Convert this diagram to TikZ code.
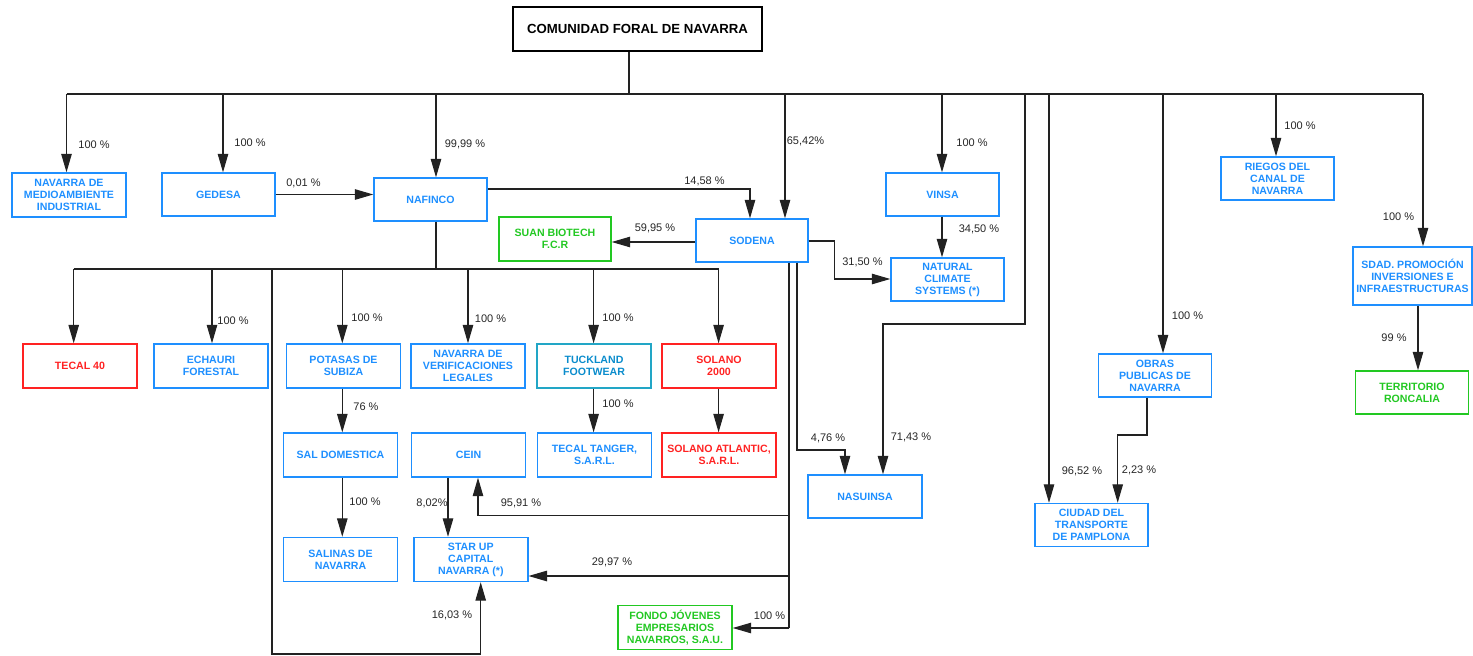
\documentclass[tikz,border=0pt]{standalone}
\usepackage{fontspec}
\setmainfont{Liberation Sans}
\usetikzlibrary{arrows.meta}
\definecolor{cblue}{HTML}{1E8FFF}
\definecolor{cred}{HTML}{FF2222}
\definecolor{cgreen}{HTML}{22C822}
\definecolor{cteal}{HTML}{22A6C6}
\definecolor{ctealtext}{HTML}{0A8CCC}
\definecolor{cline}{HTML}{222222}
\begin{document}
\begin{tikzpicture}[x=1pt,y=-1pt,
  box/.style={draw, line width=1.4pt, align=center, inner sep=0pt,
    minimum width=113pt, minimum height=43pt,
    font=\bfseries\fontsize{10.6}{12}\selectfont},
  bluebox/.style={box, draw=cblue, text=cblue},
  redbox/.style={box, draw=cred, text=cred},
  greenbox/.style={box, draw=cgreen, text=cgreen},
  tealbox/.style={box, draw=cteal, text=ctealtext},
  topbox/.style={draw=black, line width=1.2pt, inner sep=0pt,
    minimum width=249pt, minimum height=44pt,
    font=\bfseries\fontsize{13.2}{15}\selectfont},
  wire/.style={draw=cline, line width=1.1pt},
  arr/.style={wire, -{Triangle[length=18.5pt,width=10.5pt]}},
  pct/.style={font=\fontsize{11}{13}\selectfont, text=black!85, inner sep=0pt},
]
\useasboundingbox (0,0) rectangle (1473,656);

% ---------- nodes ----------
\node[topbox] (top) at (637.5,29) {COMUNIDAD FORAL DE NAVARRA};

\node[bluebox, minimum width=114pt, minimum height=44pt] (nma) at (69,195) {NAVARRA DE\\MEDIOAMBIENTE\\INDUSTRIAL};
\node[bluebox] (gedesa) at (218.5,194.5) {GEDESA};
\node[bluebox] (nafinco) at (430.5,199.5) {NAFINCO};
\node[bluebox, minimum width=112pt] (sodena) at (752,240.5) {SODENA};
\node[greenbox, minimum width=112pt, minimum height=44pt] (suan) at (555,239) {SUAN BIOTECH\\F.C.R};
\node[bluebox] (vinsa) at (942.5,194.5) {VINSA};
\node[bluebox] (ncs) at (947.5,279.5) {NATURAL\\CLIMATE\\SYSTEMS (*)};
\node[bluebox] (riegos) at (1277.5,178.5) {RIEGOS DEL\\CANAL DE\\NAVARRA};
\node[bluebox, minimum width=119pt, minimum height=58pt] (sdad) at (1412.5,276) {SDAD. PROMOCIÓN\\INVERSIONES E\\INFRAESTRUCTURAS};
\node[greenbox] (territorio) at (1412,392.5) {TERRITORIO\\RONCALIA};
\node[bluebox] (obras) at (1155,375.5) {OBRAS\\PUBLICAS DE\\NAVARRA};
\node[bluebox] (ciudad) at (1091.5,525) {CIUDAD DEL\\TRANSPORTE\\DE PAMPLONA};
\node[bluebox, minimum width=114pt] (nasuinsa) at (865,496.5) {NASUINSA};

\node[redbox, minimum width=114pt, minimum height=44pt] (tecal) at (80,366) {TECAL 40};
\node[bluebox, minimum width=114pt, minimum height=44pt] (echauri) at (211,366) {ECHAURI\\FORESTAL};
\node[bluebox, minimum width=114pt, minimum height=44pt] (potasas) at (343.5,366) {POTASAS DE\\SUBIZA};
\node[bluebox, minimum width=114pt, minimum height=44pt] (nvl) at (468,366) {NAVARRA DE\\VERIFICACIONES\\LEGALES};
\node[tealbox, minimum width=114pt, minimum height=44pt] (tuckland) at (594,366) {TUCKLAND\\FOOTWEAR};
\node[redbox, minimum width=114pt, minimum height=44pt] (solano) at (719,366) {SOLANO\\2000};

\node[bluebox, minimum width=114pt, minimum height=44pt] (sal) at (340.5,455) {SAL DOMESTICA};
\node[bluebox, minimum width=114pt, minimum height=44pt] (cein) at (468.6,455) {CEIN};
\node[bluebox, minimum width=114pt, minimum height=44pt] (tanger) at (594.5,455) {TECAL TANGER,\\S.A.R.L.};
\node[redbox, minimum width=114pt, minimum height=44pt] (atlantic) at (719,455) {SOLANO ATLANTIC,\\S.A.R.L.};
\node[bluebox, minimum width=114pt, minimum height=44pt] (salinas) at (340.5,559.5) {SALINAS DE\\NAVARRA};
\node[bluebox, minimum width=114pt, minimum height=44pt] (starup) at (470.8,559.5) {STAR UP\\CAPITAL\\NAVARRA (*)};
\node[greenbox, minimum width=114pt, minimum height=44pt] (fondo) at (675,627.5) {FONDO JÓVENES\\EMPRESARIOS\\NAVARROS, S.A.U.};

% ---------- top bus ----------
\coordinate (tb) at (629,94);
\coordinate (bL) at (66.5,94);
\coordinate (b2) at (223,94);
\coordinate (b3) at (436,94);
\coordinate (b4) at (785,94);
\coordinate (b5) at (942,94);
\coordinate (b6) at (1025,94);
\coordinate (b7) at (1049,94);
\coordinate (b8) at (1163,94);
\coordinate (b9) at (1276,94);
\coordinate (bR) at (1423,94);
\draw[wire] (top.south -| tb) -- (tb);
\draw[wire] (bL) -- (bR);
\draw[arr] (bL) -- (bL |- nma.north);
\draw[arr] (b2) -- (b2 |- gedesa.north);
\draw[arr] (b3) -- (b3 |- nafinco.north);
\draw[arr] (b4) -- (b4 |- sodena.north);
\draw[arr] (b5) -- (b5 |- vinsa.north);
\coordinate (k6a) at (1025,324);
\coordinate (k6b) at (883,324);
\draw[arr] (b6) -- (k6a) -- (k6b) -- (k6b |- nasuinsa.north);
\draw[arr] (b7) -- (b7 |- ciudad.north);
\draw[arr] (b8) -- (b8 |- obras.north);
\draw[arr] (b9) -- (b9 |- riegos.north);
\draw[arr] (bR) -- (bR |- sdad.north);

% ---------- upper links ----------
\draw[arr] (gedesa.east) -- (nafinco.west |- gedesa.east);
\coordinate (k1) at (750,189);
\draw[arr] (nafinco.east |- k1) -- (k1) -- (k1 |- sodena.north);
\coordinate (k2) at (700,242);
\draw[arr] (sodena.west |- k2) -- (suan.east |- k2);
\coordinate (k3a) at (834.5,241);
\coordinate (k3b) at (834.5,279);
\draw[arr] (sodena.east |- k3a) -- (k3a) -- (k3b) -- (ncs.west |- k3b);
\coordinate (k4) at (942,200);
\draw[arr] (vinsa.south -| k4) -- (k4 |- ncs.north);
\coordinate (k5) at (1418,300);
\draw[arr] (sdad.south -| k5) -- (k5 |- territorio.north);
\coordinate (k7a) at (1147,435);
\coordinate (k7b) at (1117.7,435);
\draw[arr] (obras.south -| k7a) -- (k7a) -- (k7b) -- (k7b |- ciudad.north);

% ---------- NAFINCO bus ----------
\coordinate (n0) at (436,269);
\coordinate (nL) at (73.7,269);
\coordinate (n2) at (212,269);
\coordinate (n3) at (272,269);
\coordinate (n4) at (342.3,269);
\coordinate (n5) at (468,269);
\coordinate (n6) at (593.6,269);
\coordinate (nR) at (718.6,269);
\draw[wire] (nafinco.south -| n0) -- (n0);
\draw[wire] (nL) -- (nR);
\draw[arr] (nL) -- (nL |- tecal.north);
\draw[arr] (n2) -- (n2 |- echauri.north);
\draw[arr] (n4) -- (n4 |- potasas.north);
\draw[arr] (n5) -- (n5 |- nvl.north);
\draw[arr] (n6) -- (n6 |- tuckland.north);
\draw[arr] (nR) -- (nR |- solano.north);
\coordinate (n3a) at (272,654);
\coordinate (n3b) at (480.7,654);
\draw[arr] (n3) -- (n3a) -- (n3b) -- (n3b |- starup.south);

% ---------- lower chains ----------
\draw[arr] (potasas.south -| n4) -- (n4 |- sal.north);
\draw[arr] (sal.south -| n4) -- (n4 |- salinas.north);
\coordinate (c1) at (448,480);
\draw[arr] (cein.south -| c1) -- (c1 |- starup.north);
\draw[arr] (tuckland.south -| n6) -- (n6 |- tanger.north);
\draw[arr] (solano.south -| nR) -- (nR |- atlantic.north);

% ---------- SODENA down lines ----------
\coordinate (s0) at (789,300);
\coordinate (s1) at (789,515.7);
\coordinate (s1b) at (478,515.7);
\coordinate (s2) at (789,576);
\coordinate (s3) at (789,628);
\draw[wire] (sodena.south -| s0) -- (s3);
\draw[arr] (s1) -- (s1b) -- (s1b |- cein.south);
\draw[arr] (s2) -- (starup.east |- s2);
\draw[arr] (s3) -- (fondo.east |- s3);
\coordinate (t0) at (797,450);
\coordinate (t1) at (845,450);
\draw[arr] (sodena.south -| t0) -- (t0) -- (t1) -- (t1 |- nasuinsa.north);

% ---------- percentages ----------
\node[pct] (p1) at (94,145) {100 \%};
\node[pct] (p2) at (250,143) {100 \%};
\node[pct] (p3) at (465,144) {99,99 \%};
\node[pct] (p4) at (303.5,183) {0,01 \%};
\node[pct] (p5) at (805.5,141) {65,42\%};
\node[pct] (p6) at (704.5,181) {14,58 \%};
\node[pct] (p7) at (972,143) {100 \%};
\node[pct] (p8) at (655,228) {59,95 \%};
\node[pct] (p9) at (979,229) {34,50 \%};
\node[pct] (p10) at (862.5,262) {31,50 \%};
\node[pct] (p11) at (618,318) {100 \%};
\node[pct] (p12) at (490.5,319) {100 \%};
\node[pct] (p13) at (367,318) {100 \%};
\node[pct] (p14) at (233,321) {100 \%};
\node[pct] (p15) at (1300,126) {100 \%};
\node[pct] (p16) at (1398.5,217) {100 \%};
\node[pct] (p17) at (1187.5,316) {100 \%};
\node[pct] (p18) at (1394,338) {99 \%};
\node[pct] (p19) at (366,407) {76 \%};
\node[pct] (p20) at (365,502) {100 \%};
\node[pct] (p21) at (432,503) {8,02\%};
\node[pct] (p22) at (521,503) {95,91 \%};
\node[pct] (p23) at (618,404) {100 \%};
\node[pct] (p24) at (612,562) {29,97 \%};
\node[pct] (p25) at (452,615) {16,03 \%};
\node[pct] (p26) at (769.5,616) {100 \%};
\node[pct] (p27) at (828,438) {4,76 \%};
\node[pct] (p28) at (911,437) {71,43 \%};
\node[pct] (p29) at (1082,471) {96,52 \%};
\node[pct] (p30) at (1139,470) {2,23 \%};
\end{tikzpicture}
\end{document}
